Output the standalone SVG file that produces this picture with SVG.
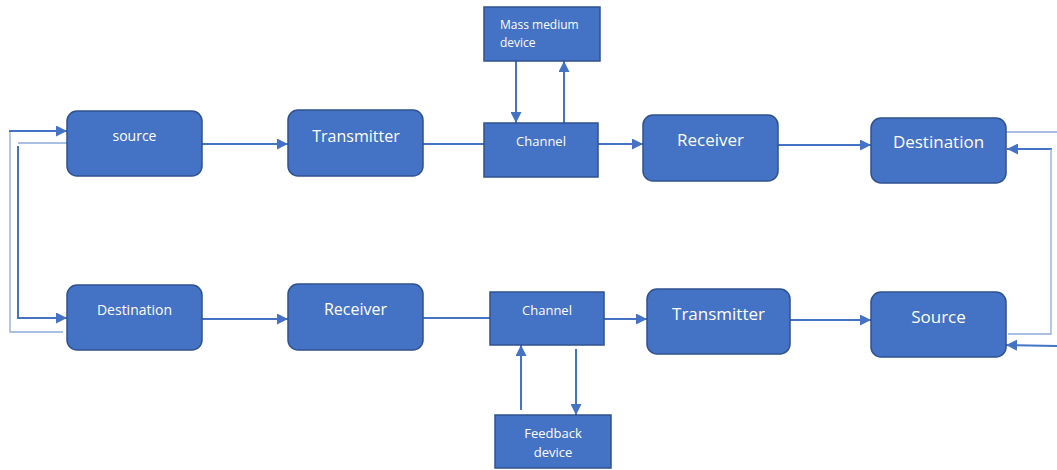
<svg xmlns="http://www.w3.org/2000/svg" width="1057" height="470" viewBox="0 0 1057 470">
<style>
.box{fill:#4472c4;stroke:#2f528f;stroke-width:1.5}
.t{fill:#ffffff;font-family:"Open Sans","Liberation Sans",sans-serif}
.c{text-anchor:middle}
.ln{fill:none;stroke:#4472c4;stroke-width:2}
.lt{fill:none;stroke:#8faadc;stroke-width:1.3}
</style>
<defs>
<marker id="ah" viewBox="0 0 10 10" refX="10" refY="5" markerWidth="12" markerHeight="11" orient="auto" markerUnits="userSpaceOnUse">
<path d="M0,0 L10,5 L0,10 z" fill="#4472c4"/>
</marker>
</defs>
<rect width="1057" height="470" fill="#ffffff"/>
<g id="connectors">
<line class="ln" x1="202" y1="144" x2="288" y2="144" marker-end="url(#ah)"/>
<line class="ln" x1="423" y1="144" x2="484" y2="144"/>
<line class="ln" x1="598" y1="144" x2="643" y2="144" marker-end="url(#ah)"/>
<line class="ln" x1="778" y1="145" x2="871" y2="145" marker-end="url(#ah)"/>
<line class="ln" x1="516" y1="61" x2="516" y2="123" marker-end="url(#ah)"/>
<line class="ln" x1="564" y1="123" x2="564" y2="61" marker-end="url(#ah)"/>
<line class="ln" x1="202" y1="319" x2="288" y2="319" marker-end="url(#ah)"/>
<line class="ln" x1="423" y1="318" x2="490" y2="318"/>
<line class="ln" x1="604" y1="319" x2="647" y2="319" marker-end="url(#ah)"/>
<line class="ln" x1="790" y1="320" x2="871" y2="320" marker-end="url(#ah)"/>
<line class="ln" x1="521" y1="410" x2="521" y2="345" marker-end="url(#ah)"/>
<line class="ln" x1="576" y1="349" x2="576" y2="415" marker-end="url(#ah)"/>
<polyline class="lt" points="63,332 10,332 10,131"/>
<line class="ln" x1="9" y1="131" x2="67" y2="131" marker-end="url(#ah)"/>
<polyline class="lt" points="67,143 18,143"/>
<polyline class="ln" points="18,146 18,318 67,318" stroke-width="1.6" marker-end="url(#ah)"/>
<line class="lt" x1="1006" y1="132" x2="1057" y2="132"/>
<polyline class="ln" points="1052,149 1007,149" marker-end="url(#ah)"/>
<polyline class="lt" points="1051,149 1051,334 1008,334"/>
<line class="ln" x1="1057" y1="346" x2="1006" y2="345" marker-end="url(#ah)"/>
</g>
<g id="source-top"><rect class="box" x="67" y="111" width="135" height="65" rx="10"/><text class="t c" x="134.5" y="141" font-size="14">source</text></g>
<g id="transmitter-top"><rect class="box" x="288" y="110" width="135" height="66" rx="10"/><text class="t c" x="356" y="142" font-size="16">Transmitter</text></g>
<g id="channel-top"><rect class="box" x="484" y="123" width="114" height="54"/><text class="t c" x="541" y="146" font-size="13">Channel</text></g>
<g id="mass-medium"><rect class="box" x="484" y="7" width="116" height="54"/><text class="t" x="500" y="29" font-size="12">Mass medium</text><text class="t" x="500" y="47" font-size="12">device</text></g>
<g id="receiver-top"><rect class="box" x="643" y="115" width="135" height="66" rx="10"/><text class="t c" x="710.5" y="146" font-size="17">Receiver</text></g>
<g id="destination-top"><rect class="box" x="871" y="118" width="135" height="65" rx="10"/><text class="t c" x="938.5" y="148" font-size="17">Destination</text></g>
<g id="destination-bottom"><rect class="box" x="67" y="285" width="135" height="65" rx="10"/><text class="t c" x="134.5" y="315" font-size="14">Destination</text></g>
<g id="receiver-bottom"><rect class="box" x="288" y="284" width="135" height="66" rx="10"/><text class="t c" x="355.5" y="315" font-size="16">Receiver</text></g>
<g id="channel-bottom"><rect class="box" x="490" y="292" width="114" height="53"/><text class="t c" x="547" y="315" font-size="13">Channel</text></g>
<g id="feedback"><rect class="box" x="495" y="415" width="116" height="53"/><text class="t c" x="553" y="438" font-size="13">Feedback</text><text class="t c" x="553" y="457" font-size="13">device</text></g>
<g id="transmitter-bottom"><rect class="box" x="647" y="289" width="143" height="65" rx="10"/><text class="t c" x="718.5" y="320" font-size="17">Transmitter</text></g>
<g id="source-bottom"><rect class="box" x="871" y="292" width="135" height="65" rx="10"/><text class="t c" x="938.5" y="323" font-size="17">Source</text></g>
</svg>
